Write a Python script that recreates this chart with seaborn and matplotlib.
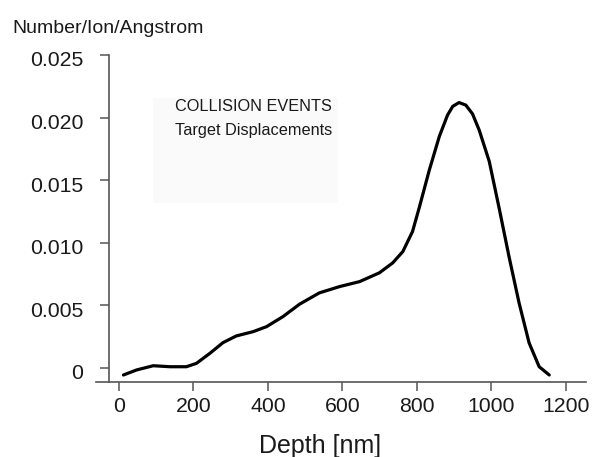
import numpy as np
import pandas as pd
import matplotlib
matplotlib.use("Agg")
import matplotlib.pyplot as plt
import matplotlib.patches as mpatches
import matplotlib.transforms as mtransforms
import seaborn as sns

# values
depth = [12, 47, 92, 137, 181, 208, 244, 279, 315, 360, 396, 440, 485, 538,
         592, 646, 699, 735, 762, 788, 806, 833, 860, 882, 896, 913, 931, 949,
         967, 994, 1021, 1047, 1074, 1101, 1128, 1155]
events = [-0.00056, -0.00016, 0.00018, 0.0001, 0.0001, 0.00037, 0.00117,
          0.00202, 0.00256, 0.0029, 0.0033, 0.0041, 0.0051, 0.0060, 0.0065,
          0.0069, 0.0076, 0.0084, 0.0093, 0.0109, 0.0128, 0.0158, 0.0185,
          0.0202, 0.0209, 0.0212, 0.0210, 0.0203, 0.0190, 0.0165, 0.0127,
          0.0089, 0.0052, 0.0020, 0.0001, -0.00056]

x_ticks = [0, 200, 400, 600, 800, 1000, 1200]
y_ticks = [0, 0.005, 0.010, 0.015, 0.020, 0.025]
y_labels = ["0", "0.005", "0.010", "0.015", "0.020", "0.025"]

df = pd.DataFrame({"depth": depth, "events": events})

sns.set_theme(style="ticks")
plt.rcParams["font.family"] = ["Liberation Sans", "DejaVu Sans"]

W, H = 593, 457
fig = plt.figure(figsize=(W / 100, H / 100), dpi=100)
fig.patch.set_facecolor("white")

# faint shaded patch behind the annotation
fig.patches.append(mpatches.Rectangle((153 / W, 1 - 203 / H), 185 / W, 105 / H,
                                      transform=fig.transFigure,
                                      facecolor="#fafafa", edgecolor="none",
                                      zorder=0))

ax = fig.add_axes([96 / W, 1 - 382 / H, 490 / W, 327 / H])
ax.patch.set_alpha(0)

sns.lineplot(data=df, x="depth", y="events", ax=ax, color="black",
             lw=2.3, sort=False, solid_joinstyle="round")

ax.set_xlim(-61.7, 1253.7)
ax.set_ylim(-0.00112, 0.025)
ax.set_xticks(x_ticks)
ax.set_yticks(y_ticks)
ax.set_yticklabels(y_labels)
ax.set_xlabel("")
ax.set_ylabel("")

for s in ["top", "right"]:
    ax.spines[s].set_visible(False)
ax.spines["left"].set_position(("data", -26.8))
for s in ["left", "bottom"]:
    ax.spines[s].set_color("#555555")
    ax.spines[s].set_linewidth(1.2)

ax.tick_params(axis="both", direction="out", length=6.5, width=1.1,
               color="#555555", labelsize=15.3, labelcolor="#1a1a1a")
ax.tick_params(axis="y", pad=12)
ax.tick_params(axis="x", pad=4)

# y labels sit a few pixels below their ticks in the original
shift = mtransforms.ScaledTranslation(0, -4 / 100, fig.dpi_scale_trans)
for lab in ax.get_yticklabels():
    lab.set_transform(lab.get_transform() + shift)

fig.text(12 / W, 1 - 33 / H, "Number/Ion/Angstrom", fontsize=14,
         color="#1a1a1a", ha="left", va="baseline")
fig.text(320 / W, 1 - 453 / H, "Depth [nm]", fontsize=18,
         color="#1a1a1a", ha="center", va="baseline")
fig.text(175 / W, 1 - 111 / H, "COLLISION EVENTS", fontsize=11.7,
         color="#1a1a1a", ha="left", va="baseline")
fig.text(175 / W, 1 - 135 / H, "Target Displacements", fontsize=11.7,
         color="#1a1a1a", ha="left", va="baseline")

fig.savefig("out.png", dpi=100)
plt.close(fig)
